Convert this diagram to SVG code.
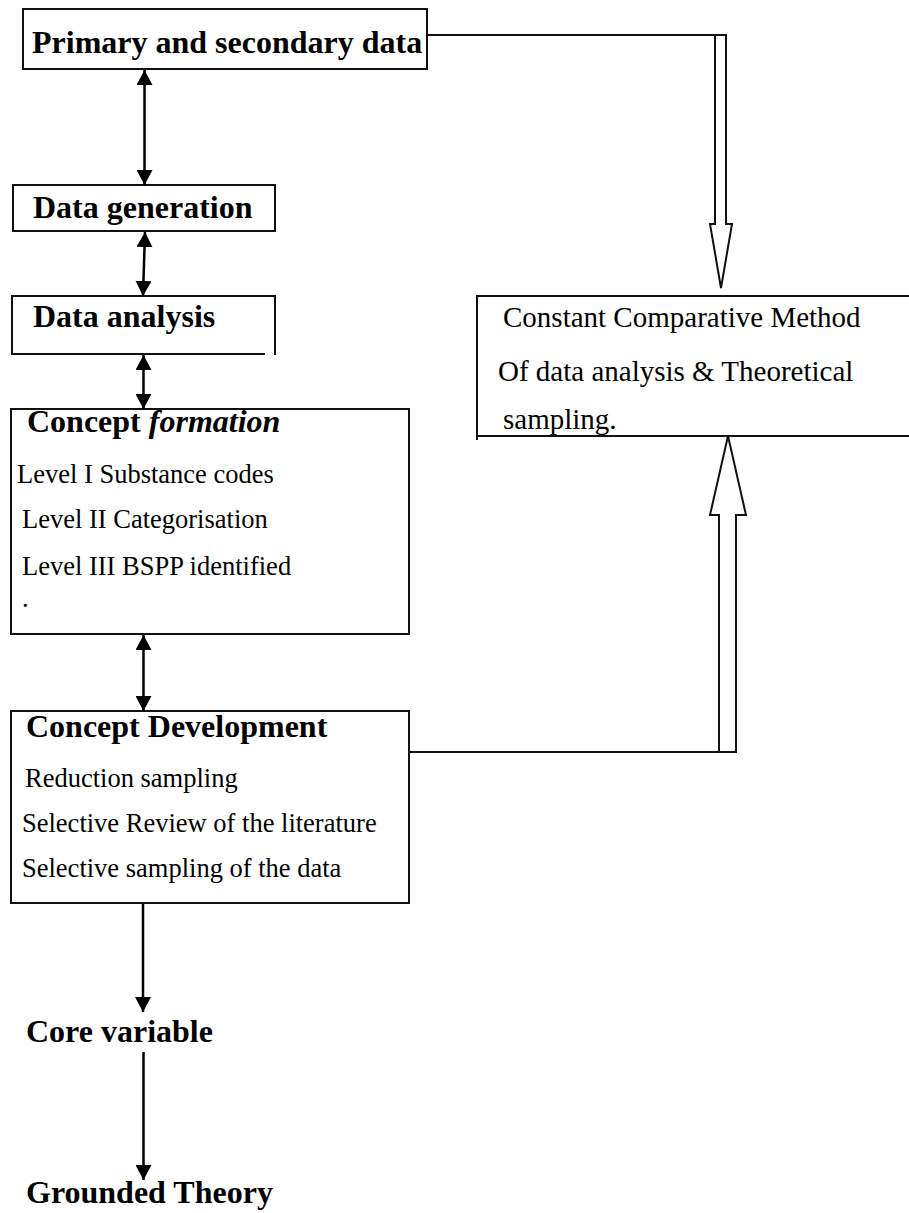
<svg xmlns="http://www.w3.org/2000/svg" width="909" height="1213" viewBox="0 0 909 1213">
  <defs>
    <style>
      .box { fill: none; stroke: #111; stroke-width: 2; }
      .head { font-family: "Liberation Serif", "Times New Roman", serif; font-weight: bold; font-size: 32px; fill: #000; }
      .item { font-family: "Liberation Serif", "Times New Roman", serif; font-size: 26.5px; fill: #000; }
      .note { font-family: "Liberation Serif", "Times New Roman", serif; font-size: 29px; fill: #000; }
      .link { fill: none; stroke: #000; stroke-width: 2.5; }
      .thin { fill: none; stroke: #111; stroke-width: 2; }
      .hollow { fill: #fff; stroke: #111; stroke-width: 2; stroke-linejoin: miter; }
    </style>
    <marker id="tip" markerUnits="userSpaceOnUse" markerWidth="16" markerHeight="16" refX="15" refY="8" orient="auto-start-reverse">
      <path d="M0,0 L15,8 L0,16 Z" fill="#000"/>
    </marker>
  </defs>

  <!-- Primary and secondary data -->
  <g id="primary-data">
    <rect class="box" x="23" y="9" width="404" height="60"/>
    <text class="head" x="32" y="53">Primary and secondary data</text>
  </g>

  <!-- Data generation -->
  <g id="data-generation">
    <rect class="box" x="13" y="185" width="262" height="46"/>
    <text class="head" x="33" y="218">Data generation</text>
  </g>

  <!-- Data analysis (bottom edge stops short of the right side) -->
  <g id="data-analysis">
    <path class="box" d="M265,354 H12 V296 H275 V355"/>
    <text class="head" x="33" y="327">Data analysis</text>
  </g>

  <!-- Concept formation -->
  <g id="concept-formation">
    <rect class="box" x="11" y="409" width="398" height="225"/>
    <text class="head" x="27" y="432">Concept <tspan font-style="italic">formation</tspan></text>
    <text class="item" x="17" y="483">Level I Substance codes</text>
    <text class="item" x="22" y="528">Level II Categorisation</text>
    <text class="item" x="22" y="575">Level III BSPP identified</text>
    <text class="item" x="22" y="607" font-size="16">.</text>
  </g>

  <!-- Concept development -->
  <g id="concept-development">
    <rect class="box" x="11" y="711" width="398" height="192"/>
    <text class="head" x="26" y="737">Concept Development</text>
    <text class="item" x="25" y="787">Reduction sampling</text>
    <text class="item" x="22" y="832">Selective Review of the literature</text>
    <text class="item" x="22" y="877">Selective sampling of the data</text>
  </g>

  <!-- Constant comparative method (open on the right) -->
  <g id="constant-comparative">
    <path class="box" d="M909,296 H477 V440 M477,436 H909"/>
    <text class="note" x="503" y="327">Constant Comparative Method</text>
    <text class="note" x="498" y="381">Of data analysis &amp; Theoretical</text>
    <text class="note" x="503" y="429">sampling.</text>
  </g>

  <!-- Core variable -->
  <g id="core-variable">
    <text class="head" x="26" y="1042">Core variable</text>
  </g>

  <!-- Grounded theory -->
  <g id="grounded-theory">
    <text class="head" x="26" y="1203">Grounded Theory</text>
  </g>

  <!-- Connectors -->
  <g id="connectors">
    <line class="link" x1="144.5" y1="70" x2="144.5" y2="185" marker-start="url(#tip)" marker-end="url(#tip)"/>
    <line class="link" x1="145" y1="232" x2="143" y2="296" marker-start="url(#tip)" marker-end="url(#tip)"/>
    <line class="link" x1="143.5" y1="355" x2="143.5" y2="409" marker-start="url(#tip)" marker-end="url(#tip)"/>
    <line class="link" x1="143.5" y1="635" x2="143.5" y2="711" marker-start="url(#tip)" marker-end="url(#tip)"/>
    <line class="link" x1="143" y1="904" x2="143" y2="1012" marker-end="url(#tip)"/>
    <line class="link" x1="143.5" y1="1052" x2="143.5" y2="1180" marker-end="url(#tip)"/>

    <!-- feed into the constant comparative method -->
    <line class="thin" x1="427" y1="35" x2="715" y2="35"/>
    <polygon class="hollow" points="715,35 726,35 726,224 732,224 721,288 710,224 715,224"/>
    <line class="thin" x1="409" y1="752" x2="719" y2="752"/>
    <polygon class="hollow" points="719,752 719,515 710,515 728,436 746,515 736,515 736,752"/>
  </g>
</svg>
